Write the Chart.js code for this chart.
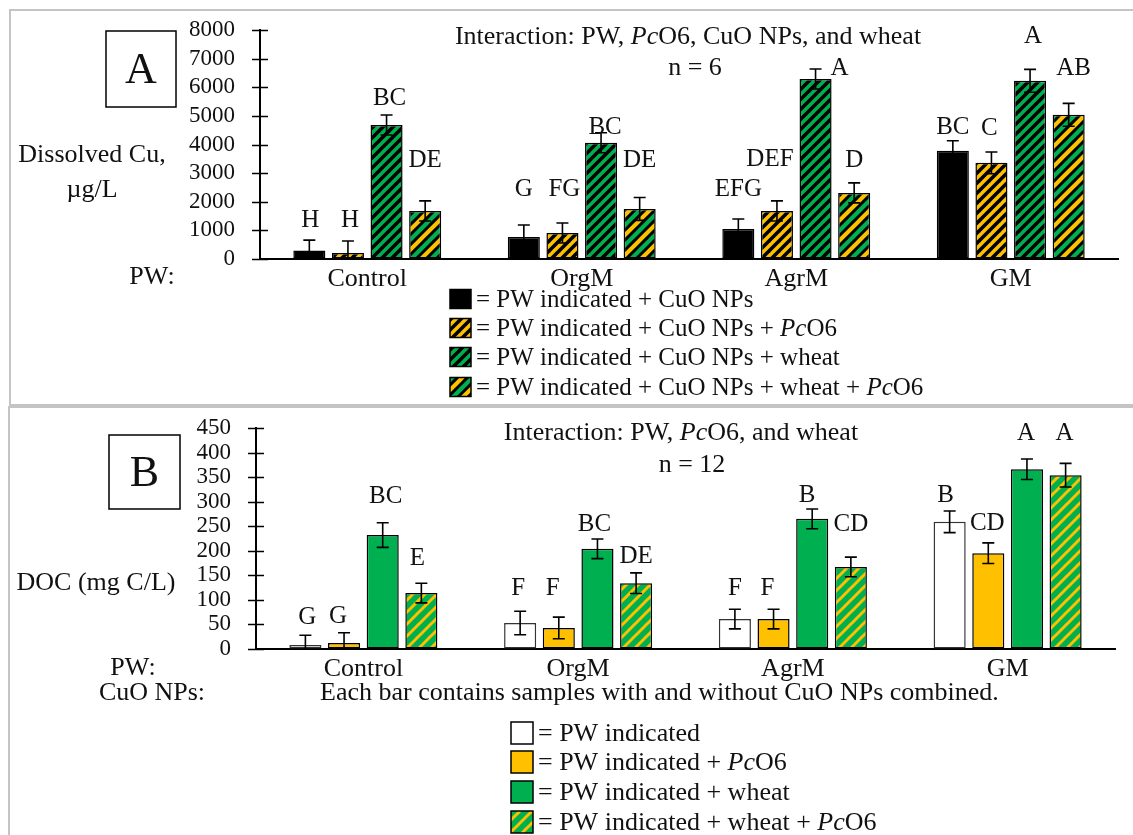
<!DOCTYPE html>
<html lang="en">
<head>
<meta charset="UTF-8">
<title>Dissolved Cu and DOC by pore water</title>
<script src="https://cdn.jsdelivr.net/npm/chart.js@4.4.1/dist/chart.umd.min.js"></script>
<style>
    body { margin: 0; background: #fff; width: 1133px; height: 835px; overflow: hidden; position: relative; }
    .frame { position: absolute; border: 2px solid #c4c4c4; box-sizing: border-box; }
    canvas { position: absolute; left: 0; }
</style>
</head>
<body>
<div class="frame" style="left:9px;top:9px;width:1200px;height:397px"></div>
<div class="frame" style="left:8px;top:406px;width:1200px;height:500px"></div>
<canvas id="chartA" width="1133" height="407" style="top:0"></canvas>
<canvas id="chartB" width="1133" height="428" style="top:407px"></canvas>

<script>
// ---- data ----
const categories = ['Control', 'OrgM', 'AgrM', 'GM'];

// Panel A: dissolved Cu (µg/L), n = 6
const cuCuO          = [300, 770, 1050, 3780];
const cuCuOPc        = [210, 910, 1680, 3360];
const cuCuOWheat     = [4680, 4060, 6290, 6225];
const cuCuOWheatPc   = [1680, 1750, 2310, 5035];
const cuErrCuO        = [360, 420, 350, 350];
const cuErrCuOPc      = [420, 350, 350, 380];
const cuErrCuOWheat   = [350, 350, 350, 400];
const cuErrCuOWheatPc = [350, 400, 350, 400];
const cuLetters = [
    ['H', 'G', 'EFG', 'BC'],
    ['H', 'FG', 'DEF', 'C'],
    ['BC', 'BC', 'A', 'A'],
    ['DE', 'DE', 'D', 'AB']
];
const cuTicks = { min: 0, max: 8000, step: 1000 };

// Panel B: DOC (mg C/L), n = 12
const docPW          = [8, 53, 61, 259];
const docPc          = [12, 43, 61, 195];
const docWheat       = [232, 204, 265, 366];
const docWheatPc     = [114, 134, 167, 354];
const docErrPW        = [20, 24, 20, 22];
const docErrPc        = [21, 22, 20, 21];
const docErrWheat     = [25, 20, 20, 21];
const docErrWheatPc   = [20, 21, 20, 24];
const docLetters = [
    ['G', 'F', 'F', 'B'],
    ['G', 'F', 'F', 'CD'],
    ['BC', 'BC', 'B', 'A'],
    ['E', 'DE', 'CD', 'A']
];
const docTicks = { min: 0, max: 450, step: 50 };

// ---- style ----
const FAMILY = '"Liberation Serif", "Times New Roman", serif';
const TEXT = '#111';
const GOLD = '#FFC000';
const GREEN = '#00B050';

// letter placement: px above the error cap, and sideways nudge
const cuGap   = [[20, 35, 29, 13], [21, 33, 41, 24], [17, 5, 0, 33], [40, 37, 22, 35]];
const cuShift = [[1, 0, 0, 0], [2, 2, -7, -2], [3, 4, 24, 3], [0, 0, 0, 5]];
const docGap   = [[18, 23, 21, 16], [16, 29, 21, 19], [26, 15, 14, 26], [25, 16, 33, 30]];
const docShift = [[2, -2, 0, -4], [-6, -6, -6, -1], [3, -3, -5, -1], [-4, 0, 0, -1]];

// diagonal "/" stripe tiles
function stripes(bg, bands, size) {
    const c = document.createElement('canvas');
    c.width = c.height = size;
    const g = c.getContext('2d');
    g.fillStyle = bg;
    g.fillRect(0, 0, size, size);
    bands.forEach(([off, col, w]) => {
        g.strokeStyle = col;
        g.lineWidth = w;
        for (let k = -1; k <= 1; k++) {
            const x0 = off + k * size;
            g.beginPath();
            g.moveTo(x0 - size, size * 2);
            g.lineTo(x0 + size * 2, -size);
            g.stroke();
        }
    });
    return g.createPattern(c, 'repeat');
}

const hatchGoldBlack  = stripes(GOLD, [[0, '#000', 3.5]], 10);
const hatchGreenBlack = stripes(GREEN, [[0, '#000', 3.5]], 10);
const hatchGoldGreen  = stripes(GREEN, [[0, GOLD, 4.5], [5, '#000', 3], [15, '#000', 3]], 20);
const hatchGreenGold  = stripes(GREEN, [[0, GOLD, 3]], 12);

function drawRich(ctx, parts, x, y, align, size) {
    const fonts = parts.map(p => (p[1] ? 'italic ' : '') + size + 'px ' + FAMILY);
    let w = 0;
    parts.forEach((p, i) => { ctx.font = fonts[i]; w += ctx.measureText(p[0]).width; });
    let cx = align === 'center' ? x - w / 2 : x;
    ctx.textAlign = 'left';
    ctx.textBaseline = 'middle';
    ctx.fillStyle = TEXT;
    parts.forEach((p, i) => {
        ctx.font = fonts[i];
        ctx.fillText(p[0], cx, y);
        cx += ctx.measureText(p[0]).width;
    });
}

// error bars + significance letters
function errLetters(gaps, shifts) {
    return {
        id: 'errLetters',
        afterDatasetsDraw(chart) {
            const ctx = chart.ctx, ys = chart.scales.y;
            chart.data.datasets.forEach((ds, di) => {
                chart.getDatasetMeta(di).data.forEach((bar, i) => {
                    const v = ds.data[i], e = ds.errors[i];
                    const top = ys.getPixelForValue(v + e);
                    const bot = ys.getPixelForValue(Math.max(0, v - e));
                    ctx.save();
                    ctx.strokeStyle = '#000';
                    ctx.lineWidth = 1.6;
                    ctx.beginPath();
                    ctx.moveTo(bar.x, top); ctx.lineTo(bar.x, bot);
                    ctx.moveTo(bar.x - 6, top); ctx.lineTo(bar.x + 6, top);
                    if (v - e > 0) { ctx.moveTo(bar.x - 6, bot); ctx.lineTo(bar.x + 6, bot); }
                    ctx.stroke();
                    drawRich(ctx, [[ds.letters[i], false]], bar.x + shifts[di][i], top - gaps[di][i], 'center', 25);
                    ctx.restore();
                });
            });
        }
    };
}

// cross ticks on the value axis, panel texts, legend
function decorations(cfg) {
    return {
        id: 'decor',
        afterDraw(chart) {
            const ctx = chart.ctx, ys = chart.scales.y;
            ctx.save();
            ctx.strokeStyle = '#000';
            ctx.lineWidth = 1.6;
            ctx.beginPath();
            ys.ticks.forEach(t => {
                const py = Math.round(ys.getPixelForValue(t.value)) + 0.5;
                ctx.moveTo(ys.right - 8, py);
                ctx.lineTo(ys.right + 8, py);
            });
            ctx.stroke();

            // panel letter box
            const b = cfg.box;
            ctx.lineWidth = 1.5;
            ctx.strokeRect(b.x, b.y, b.w, b.h);
            ctx.font = '44px ' + FAMILY;
            ctx.fillStyle = TEXT;
            ctx.textAlign = 'center';
            ctx.textBaseline = 'middle';
            ctx.fillText(cfg.panel, b.x + b.w / 2, b.y + b.h / 2 + 2);

            cfg.texts.forEach(t => drawRich(ctx, t.parts, t.x, t.y, t.align, 26));

            const L = cfg.legend;
            L.items.forEach((it, i) => {
                const cy = L.rows[i];
                ctx.fillStyle = it.fill;
                ctx.fillRect(L.x, cy - L.h / 2, L.w, L.h);
                ctx.strokeStyle = '#000';
                ctx.lineWidth = 1.5;
                ctx.strokeRect(L.x, cy - L.h / 2, L.w, L.h);
                drawRich(ctx, it.parts, L.x + L.w + 5, cy + 1, 'left', L.size);
            });
            ctx.restore();
        }
    };
}

function makeOptions(area, H, ticks, tickSize) {
    return {
        responsive: false,
        animation: false,
        devicePixelRatio: 1,
        layout: { padding: { top: area.top, right: 1133 - area.right, left: 0, bottom: 0 } },
        plugins: { legend: { display: false }, tooltip: { enabled: false } },
        scales: {
            x: {
                grid: { display: false },
                border: { display: true, color: '#000', width: 2 },
                ticks: { color: TEXT, font: { family: FAMILY, size: 26 }, padding: -3, maxRotation: 0 },
                afterFit: s => { s.height = H - area.bottom; }
            },
            y: {
                min: ticks.min,
                max: ticks.max,
                // invisible tick marks only push the labels away from the axis
                grid: { display: true, drawOnChartArea: false, drawTicks: true, tickLength: 25, color: 'rgba(0,0,0,0)' },
                border: { display: true, color: '#000', width: 2 },
                ticks: {
                    stepSize: ticks.step,
                    autoSkip: false,
                    padding: 0,
                    color: TEXT,
                    font: { family: FAMILY, size: tickSize },
                    callback: v => String(v)
                },
                afterFit: s => { s.width = area.left; }
            }
        }
    };
}

function ds(label, data, errors, letters, fill, border) {
    return {
        label, data, errors, letters,
        backgroundColor: fill,
        borderColor: border || '#000',
        borderWidth: 1.5,
        borderSkipped: false,
        categoryPercentage: 0.72,
        barPercentage: 0.83
    };
}

// ---- Panel A ----
const legendA = [
    { fill: '#000', parts: [['= PW indicated + CuO NPs', false]] },
    { fill: hatchGoldBlack, parts: [['= PW indicated + CuO NPs + ', false], ['Pc', true], ['O6', false]] },
    { fill: hatchGreenBlack, parts: [['= PW indicated + CuO NPs + wheat', false]] },
    { fill: hatchGoldGreen, parts: [['= PW indicated + CuO NPs + wheat + ', false], ['Pc', true], ['O6', false]] }
];

new Chart(document.getElementById('chartA'), {
    type: 'bar',
    data: {
        labels: categories,
        datasets: [
            ds('CuO NPs', cuCuO, cuErrCuO, cuLetters[0], '#000'),
            ds('CuO NPs + PcO6', cuCuOPc, cuErrCuOPc, cuLetters[1], hatchGoldBlack),
            ds('CuO NPs + wheat', cuCuOWheat, cuErrCuOWheat, cuLetters[2], hatchGreenBlack),
            ds('CuO NPs + wheat + PcO6', cuCuOWheatPc, cuErrCuOWheatPc, cuLetters[3], hatchGoldGreen)
        ]
    },
    options: makeOptions({ left: 260, right: 1118, top: 30, bottom: 259 }, 407, cuTicks, 23),
    plugins: [
        errLetters(cuGap, cuShift),
        decorations({
            panel: 'A',
            box: { x: 106, y: 31, w: 70, h: 76 },
            texts: [
                { x: 688, y: 37, align: 'center', parts: [['Interaction: PW, ', false], ['Pc', true], ['O6, CuO NPs, and wheat', false]] },
                { x: 695, y: 68, align: 'center', parts: [['n = 6', false]] },
                { x: 92, y: 155, align: 'center', parts: [['Dissolved Cu,', false]] },
                { x: 92, y: 190, align: 'center', parts: [['µg/L', false]] },
                { x: 152, y: 277, align: 'center', parts: [['PW:', false]] }
            ],
            legend: { x: 450, w: 21, h: 19, size: 25, rows: [299, 328, 357, 387], items: legendA }
        })
    ]
});

// ---- Panel B ----
const legendB = [
    { fill: '#fff', parts: [['= PW indicated', false]] },
    { fill: GOLD, parts: [['= PW indicated + ', false], ['Pc', true], ['O6', false]] },
    { fill: GREEN, parts: [['= PW indicated + wheat', false]] },
    { fill: hatchGreenGold, parts: [['= PW indicated + wheat + ', false], ['Pc', true], ['O6', false]] }
];

new Chart(document.getElementById('chartB'), {
    type: 'bar',
    data: {
        labels: categories,
        datasets: [
            ds('PW indicated', docPW, docErrPW, docLetters[0], '#fff', '#333'),
            ds('PW indicated + PcO6', docPc, docErrPc, docLetters[1], GOLD),
            ds('PW indicated + wheat', docWheat, docErrWheat, docLetters[2], GREEN),
            ds('PW indicated + wheat + PcO6', docWheatPc, docErrWheatPc, docLetters[3], hatchGreenGold)
        ]
    },
    options: makeOptions({ left: 256, right: 1115, top: 21, bottom: 242 }, 428, docTicks, 23),
    plugins: [
        errLetters(docGap, docShift),
        decorations({
            panel: 'B',
            box: { x: 109, y: 28, w: 71, h: 74 },
            texts: [
                { x: 681, y: 26, align: 'center', parts: [['Interaction: PW, ', false], ['Pc', true], ['O6, and wheat', false]] },
                { x: 692, y: 58, align: 'center', parts: [['n = 12', false]] },
                { x: 96, y: 176, align: 'center', parts: [['DOC (mg C/L)', false]] },
                { x: 133, y: 261, align: 'center', parts: [['PW:', false]] },
                { x: 152, y: 286, align: 'center', parts: [['CuO NPs:', false]] },
                { x: 320, y: 286, align: 'left', parts: [['Each bar contains samples with and without CuO NPs combined.', false]] }
            ],
            legend: { x: 511, w: 22, h: 22, size: 26, rows: [326, 355, 385, 415], items: legendB }
        })
    ]
});
</script>
</body>
</html>
